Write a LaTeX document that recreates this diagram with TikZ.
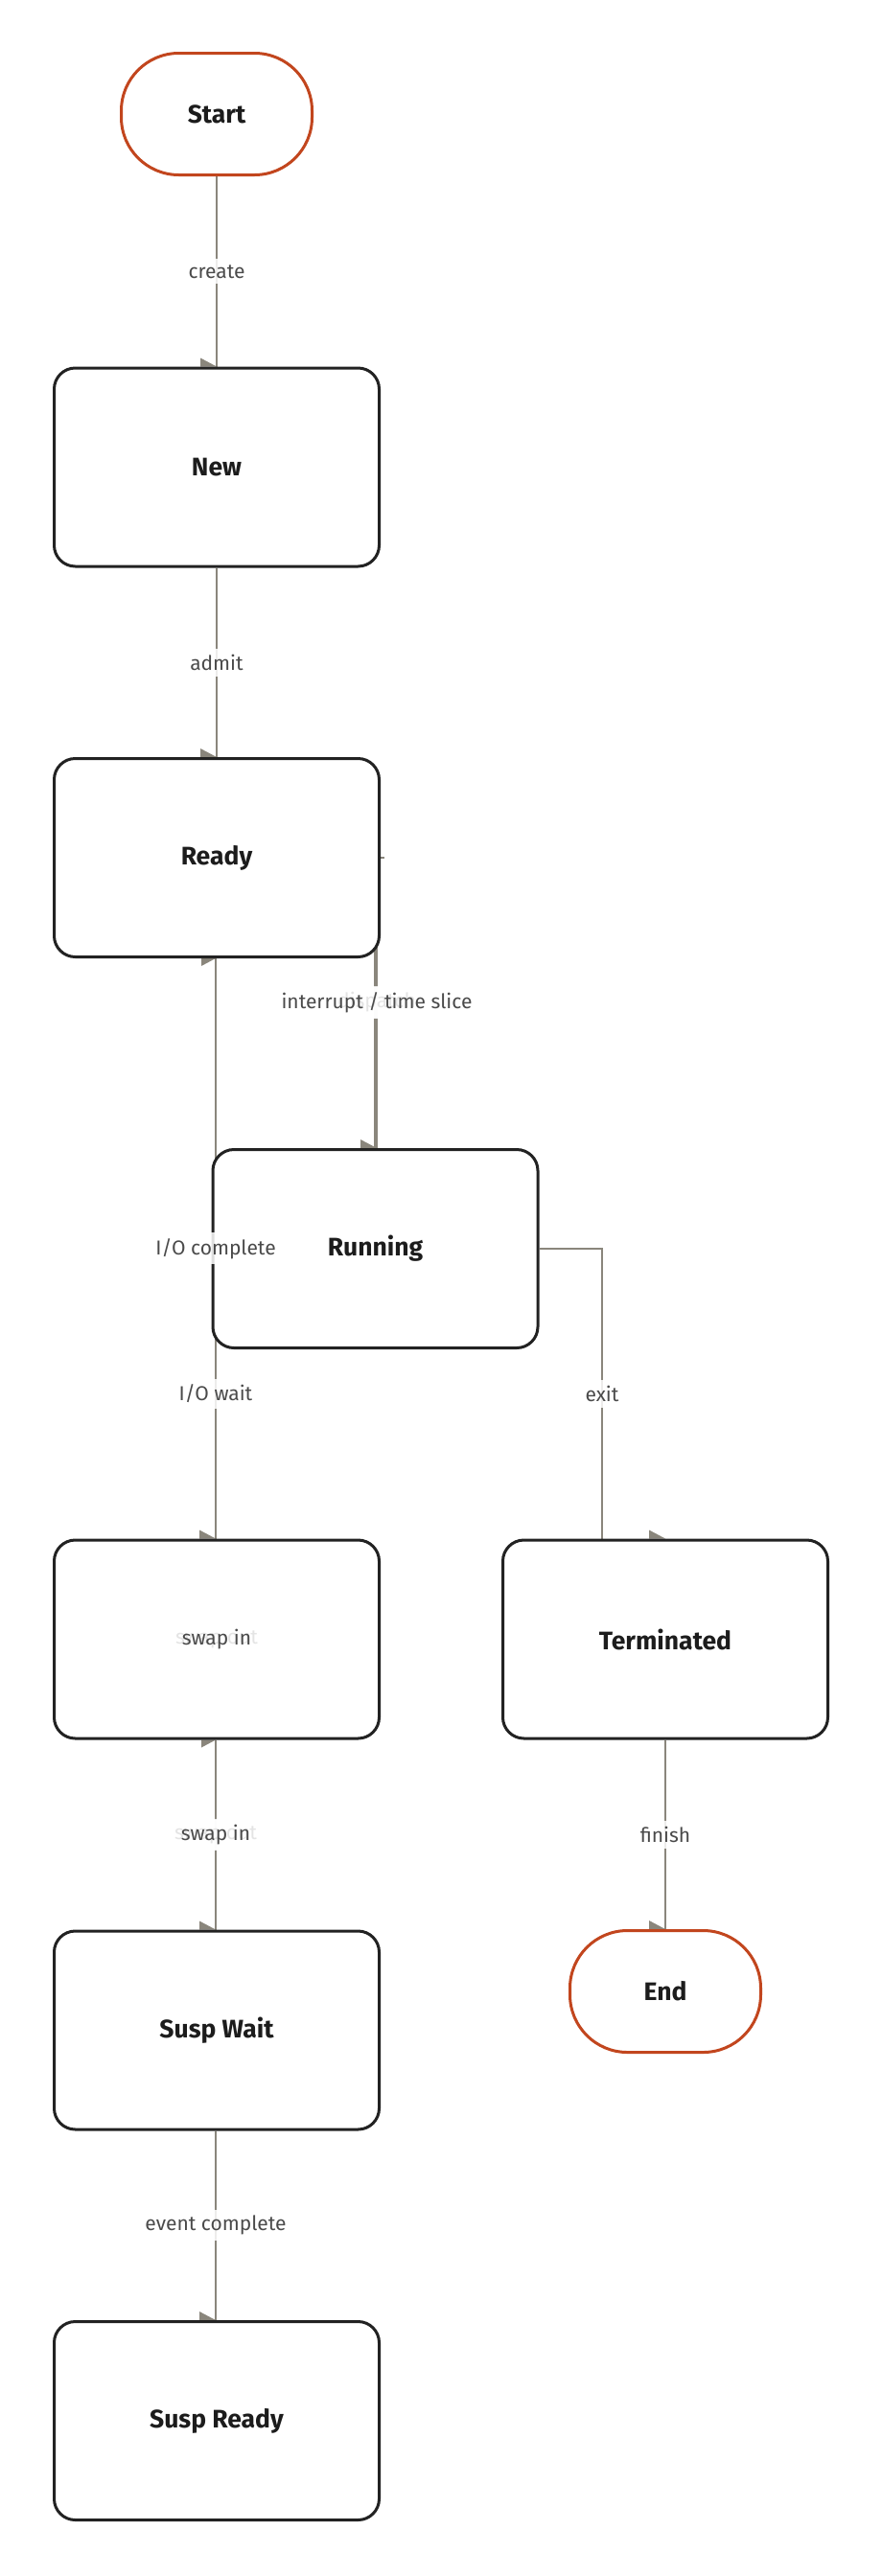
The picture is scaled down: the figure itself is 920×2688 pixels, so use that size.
\documentclass[tikz,border=0pt]{standalone}
\usepackage{fontspec}
\setmainfont{Fira Sans}
\usetikzlibrary{calc}
\definecolor{edgec}{HTML}{8A867C}
\definecolor{nodeb}{HTML}{222222}
\definecolor{termc}{HTML}{C2461E}
\definecolor{nodet}{HTML}{1C1C1C}
\definecolor{lblc}{HTML}{4A4A4A}
\pgfdeclarelayer{bg}
\pgfdeclarelayer{paper}
\pgfsetlayers{paper,bg,main}
\newcommand\tipdown[1]{\fill[edgec] (#1) -- ++(-17,0) -- ++(0,-9) -- cycle;}
\newcommand\tipup[1]{\fill[edgec] (#1) -- ++(-15,0) -- ++(0,8) -- cycle;}
\begin{document}
\begin{tikzpicture}[x=1pt,y=-1pt,
  state/.style={draw=nodeb, line width=3pt, fill=white, rounded corners=22pt,
    minimum width=339pt, minimum height=207pt, inner sep=0pt,
    font=\fontsize{26.5}{30}\selectfont\bfseries, text=nodet},
  term/.style={draw=termc, line width=3pt, fill=white, rounded corners=60pt,
    minimum width=199pt, minimum height=127pt, inner sep=0pt,
    font=\fontsize{26.5}{30}\selectfont\bfseries, text=nodet},
  edge/.style={draw=edgec, line width=2.7pt},
  lbl/.style={fill=white, fill opacity=0.85, text opacity=1, text=lblc,
    font=\fontsize{21}{25}\selectfont, inner xsep=9pt, inner ysep=6pt}
]
\begin{pgfonlayer}{paper}
\fill[white] (0,0) rectangle (920,2688);
\end{pgfonlayer}
\useasboundingbox (0,0) rectangle (920,2688);

% nodes
\node[term]  (start) at (226,119) {Start};
\node[state] (new) at (226,487.5) {New};
\node[state] (ready) at (226,895) {Ready};
\node[state] (run) at (391.5,1303) {Running};
\node[state] (wait) at (226,1710.5) {};
\node[state] (term) at (694,1710.5) {Terminated};
\node[state] (swait) at (226,2118.5) {Susp Wait};
\node[term]  (end) at (694,2078) {End};
\node[state] (sready) at (226,2526) {Susp Ready};

\begin{pgfonlayer}{bg}
  % create
  \draw[edge] (start.south) -- coordinate[pos=0.5] (mcreate) (new.north);
  \tipdown{new.north}
  % admit
  \draw[edge] (new.south) -- coordinate[pos=0.5] (madmit) (ready.north);
  \tipdown{ready.north}
  % dispatch
  \coordinate (dtop) at ($(run.north)+(1.5,0)$);
  \draw[edge] (ready.east) -| (dtop);
  \tipdown{dtop}
  % interrupt / time slice
  \draw[edge] (run.north) |- (ready.east) -- ++(4,0);
  \coordinate (mint) at ($(run.north)+(1.5,-152)$);
  % I/O complete
  \coordinate (ioa) at ($(wait.north)+(-1,0)$);
  \coordinate (iob) at ($(ready.south)+(-1,0)$);
  \draw[edge] (ioa) -- coordinate[pos=0.5] (miocomp) (iob);
  \tipup{iob}
  % I/O wait
  \coordinate (iow) at (ioa |- run.west);
  \draw[edge] (iow) -- coordinate[pos=0.5] (miowait) (ioa);
  \tipdown{ioa}
  % exit
  \coordinate (exc) at ($(term.north)+(-66,0)$);
  \draw[edge] (run.east) -| coordinate[pos=0.75] (mexit) (exc);
  \tipdown{term.north}
  % swap out / swap in
  \coordinate (swa) at ($(wait.south)+(-1,0)$);
  \coordinate (swb) at ($(swait.north)+(-1,0)$);
  \draw[edge] (swa) -- coordinate[pos=0.5] (mswap) (swb);
  \tipup{swa}
  \tipdown{swb}
  % finish
  \draw[edge] (term.south) -- coordinate[pos=0.5] (mfinish) (end.north);
  \tipdown{end.north}
  % event complete
  \coordinate (eva) at ($(swait.south)+(-1,0)$);
  \coordinate (evb) at ($(sready.north)+(-1,0)$);
  \draw[edge] (eva) -- coordinate[pos=0.5] (mevent) (evb);
  \tipdown{evb}
\end{pgfonlayer}

% labels
\node[lbl] (lcreate) at (mcreate) {create};
\node[lbl] (ladmit) at (madmit) {admit};
\node[lbl] (ldisp) at (mint) {dispatch};
\node[lbl] (lint) at (mint) {interrupt / time slice};
\node[lbl] (liocomp) at (miocomp) {I/O complete};
\node[lbl] (liowait) at (miowait) {I/O wait};
\node[lbl] (lexit) at (mexit) {exit};
\node[lbl] (lswapo1) at (wait.center) {swap out};
\node[lbl] (lswapi1) at (wait.center) {swap in};
\node[lbl] (lswapo2) at (mswap) {swap out};
\node[lbl] (lswapi2) at (mswap) {swap in};
\node[lbl] (lfinish) at (mfinish) {finish};
\node[lbl] (levent) at (mevent) {event complete};
\end{tikzpicture}
\end{document}
